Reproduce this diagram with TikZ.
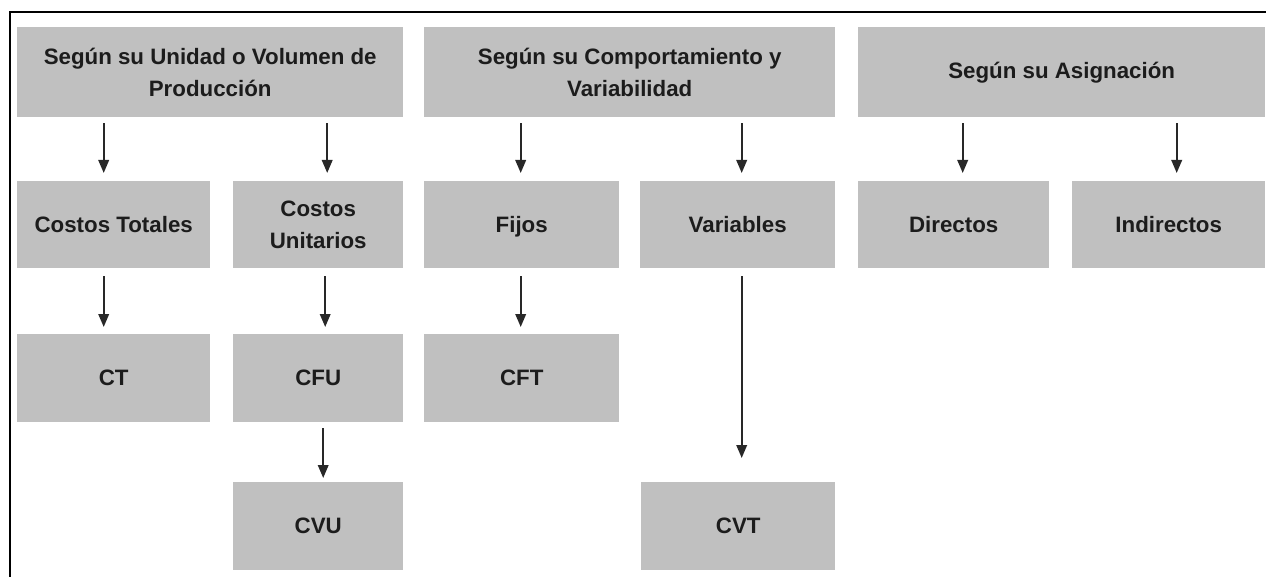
\documentclass[tikz,border=0pt]{standalone}
\usepackage{fontspec}
\setmainfont{Liberation Sans}
\usetikzlibrary{arrows.meta}
\definecolor{boxgray}{RGB}{192,192,192}
\definecolor{txt}{RGB}{28,28,28}
\definecolor{arr}{RGB}{40,40,40}
\tikzset{
  box/.style={fill=boxgray, draw=none, anchor=north west, inner sep=0pt, align=center,
    text=txt, font=\bfseries\fontsize{22.3}{32}\selectfont},
  link/.style={draw=arr, line width=2pt, -{Triangle[width=10.5pt,length=13pt]}},
}
\begin{document}
\begin{tikzpicture}[x=1pt,y=-1pt]
\useasboundingbox (0,0) rectangle (1266,577);
% frame
\draw[line width=2.5pt] (10,577) -- (10,12) -- (1266,12);
% headers
\node[box, minimum width=386pt, minimum height=90pt] (h1) at (17,27) {Según su Unidad o Volumen de\\Producción};
\node[box, minimum width=411pt, minimum height=90pt] (h2) at (424,27) {Según su Comportamiento y\\Variabilidad};
\node[box, minimum width=407pt, minimum height=90pt] (h3) at (858,27) {Según su Asignación};
% level 2
\node[box, minimum width=193pt, minimum height=87pt] (ctot) at (17,181) {Costos Totales};
\node[box, minimum width=170pt, minimum height=87pt] (cu) at (233,181) {Costos\\Unitarios};
\node[box, minimum width=195pt, minimum height=87pt] (fij) at (424,181) {Fi\smash{j}os};
\node[box, minimum width=195pt, minimum height=87pt] (var) at (640,181) {Variables};
\node[box, minimum width=191pt, minimum height=87pt] (dir) at (858,181) {Directos};
\node[box, minimum width=193pt, minimum height=87pt] (ind) at (1072,181) {Indirectos};
% level 3
\node[box, minimum width=193pt, minimum height=88pt] (ct) at (17,334) {CT};
\node[box, minimum width=170pt, minimum height=88pt] (cfu) at (233,334) {CFU};
\node[box, minimum width=195pt, minimum height=88pt] (cft) at (424,334) {CFT};
% level 4
\node[box, minimum width=170pt, minimum height=88pt] (cvu) at (233,482) {CVU};
\node[box, minimum width=194pt, minimum height=88pt] (cvt) at (641,482) {CVT};
% arrows header -> level 2
\draw[link, shorten <=6pt, shorten >=8pt] ([xshift=-10pt]ctot.north |- h1.south) -- ([xshift=-10pt]ctot.north);
\draw[link, shorten <=6pt, shorten >=8pt] ([xshift=9pt]cu.north |- h1.south) -- ([xshift=9pt]cu.north);
\draw[link, shorten <=6pt, shorten >=8pt] ([xshift=-1pt]fij.north |- h2.south) -- ([xshift=-1pt]fij.north);
\draw[link, shorten <=6pt, shorten >=8pt] ([xshift=4pt]var.north |- h2.south) -- ([xshift=4pt]var.north);
\draw[link, shorten <=6pt, shorten >=8pt] ([xshift=9pt]dir.north |- h3.south) -- ([xshift=9pt]dir.north);
\draw[link, shorten <=6pt, shorten >=8pt] ([xshift=8pt]ind.north |- h3.south) -- ([xshift=8pt]ind.north);
% level 2 -> level 3
\draw[link, shorten <=8pt, shorten >=7pt] ([xshift=-10pt]ctot.south) -- ([xshift=-10pt]ct.north);
\draw[link, shorten <=8pt, shorten >=7pt] ([xshift=7pt]cu.south) -- ([xshift=7pt]cfu.north);
\draw[link, shorten <=8pt, shorten >=7pt] ([xshift=-1pt]fij.south) -- ([xshift=-1pt]cft.north);
\draw[link, shorten <=6pt, shorten >=4pt] ([xshift=5pt]cfu.south) -- ([xshift=5pt]cvu.north);
\draw[link, shorten <=8pt, shorten >=24pt] ([xshift=4pt]var.south) -- ([xshift=4pt]var.south |- cvt.north);
\end{tikzpicture}
\end{document}
